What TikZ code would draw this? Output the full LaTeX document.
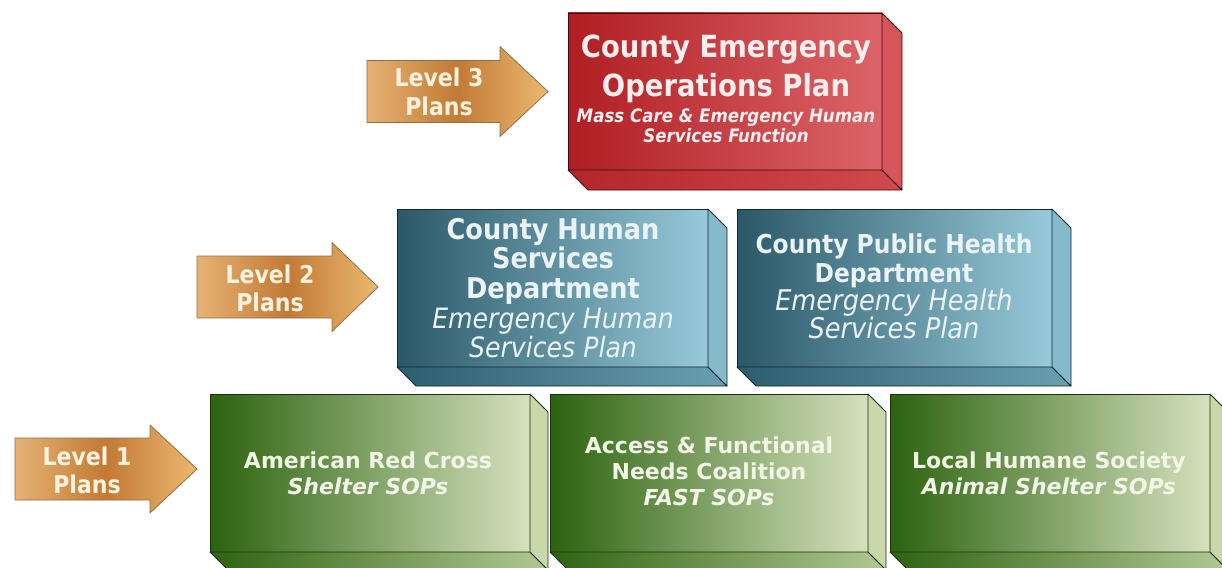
\documentclass[tikz,border=0pt]{standalone}
\usepackage{fontspec}
\setmainfont{DejaVu Sans}
\newfontfamily\narfont[FakeStretch=0.9]{DejaVu Sans}
\usetikzlibrary{calc}
\definecolor{redA}{HTML}{B01E23}
\definecolor{redB}{HTML}{DC6468}
\definecolor{redSide}{HTML}{D6555A}
\definecolor{redBotA}{HTML}{B3262A}
\definecolor{redBotB}{HTML}{D24A4E}
\definecolor{redLine}{HTML}{3C0A0C}
\definecolor{redText}{HTML}{F8EEEE}
\definecolor{tealA}{HTML}{2B5868}
\definecolor{tealB}{HTML}{96C9D9}
\definecolor{tealSide}{HTML}{84BACA}
\definecolor{tealBotA}{HTML}{2D5E6F}
\definecolor{tealBotB}{HTML}{6A9FB2}
\definecolor{tealLine}{HTML}{12262E}
\definecolor{tealText}{HTML}{EAF4F7}
\definecolor{greenA}{HTML}{2C630F}
\definecolor{greenB}{HTML}{D6E1BE}
\definecolor{greenSide}{HTML}{C9D7AC}
\definecolor{greenBotA}{HTML}{2E6411}
\definecolor{greenBotB}{HTML}{B3C795}
\definecolor{greenLine}{HTML}{1B300C}
\definecolor{greenText}{HTML}{F2F6E6}
\definecolor{arrA}{HTML}{E6B274}
\definecolor{arrM}{HTML}{C27A35}
\definecolor{arrB}{HTML}{EBB870}
\definecolor{arrLine}{HTML}{8E7048}
\definecolor{arrText}{HTML}{FFF3E0}
\newcommand\extrudebox[6]{%
  \shadedraw[left color=#5, right color=#6, draw=#3, line width=0.8pt, line join=round]
    (#1.south west) -- (#1.south east) -- ($(#1.south east)+(#2,#2)$) -- ($(#1.south west)+(#2,#2)$) -- cycle;
  \filldraw[fill=#4, draw=#3, line width=0.8pt, line join=round]
    (#1.north east) -- ($(#1.north east)+(#2,#2)$) -- ($(#1.south east)+(#2,#2)$) -- (#1.south east) -- cycle;
}
\tikzset{
  every node/.style={inner sep=0pt, outer sep=0pt},
  redfront/.style={draw=redLine, line width=0.8pt, left color=redA, right color=redB, minimum width=314pt, minimum height=157pt},
  tealfront/.style={draw=tealLine, line width=0.8pt, left color=tealA, right color=tealB, minimum height=158pt},
  greenfront/.style={draw=greenLine, line width=0.8pt, left color=greenA, right color=greenB, minimum width=320pt, minimum height=158pt},
  arrowshape/.style={draw=arrLine, line width=0.8pt, line join=round, left color=arrA, right color=arrB, middle color=arrM},
  arrtxt/.style={anchor=base, text=arrText, font={\narfont\bfseries\fontsize{24.5pt}{25pt}\selectfont}},
  redtitle/.style={anchor=base, text=redText, font={\narfont\bfseries\fontsize{30.5pt}{31pt}\selectfont}},
  redsub/.style={anchor=base, text=redText, font={\narfont\bfseries\itshape\fontsize{18.5pt}{19pt}\selectfont}},
  tealtitle/.style={anchor=base, text=tealText, font={\narfont\bfseries\fontsize{#1}{#1}\selectfont}},
  tealsub/.style={anchor=base, text=tealText, font={\narfont\itshape\fontsize{#1}{#1}\selectfont}},
  greentitle/.style={anchor=base, text=greenText, font={\bfseries\fontsize{22pt}{22pt}\selectfont}},
  greensub/.style={anchor=base, text=greenText, font={\bfseries\itshape\fontsize{22pt}{22pt}\selectfont}},
}
\begin{document}
\begin{tikzpicture}[x=1pt, y=-1pt]
\useasboundingbox (0,0) rectangle (1222,567);
\clip (0,0) rectangle (1222,567);
\fill[white] (0,0) rectangle (1222,567);

% ---- arrows ----
\shadedraw[arrowshape] (367,60.5) -- (500,60.5) -- (500,46.5) -- (548,91.5) -- (500,136.5) -- (500,122.5) -- (367,122.5) -- cycle;
\node[arrtxt] (l3a) at (439,87) {Level 3};
\node[arrtxt] (l3b) at (439,115) {Plans};

\shadedraw[arrowshape] (197,256) -- (332,256) -- (332,242.5) -- (378,287) -- (332,331.5) -- (332,318) -- (197,318) -- cycle;
\node[arrtxt] (l2a) at (270,283) {Level 2};
\node[arrtxt] (l2b) at (270,311) {Plans};

\shadedraw[arrowshape] (15,438) -- (150,438) -- (150,425) -- (197,469) -- (150,513) -- (150,500) -- (15,500) -- cycle;
\node[arrtxt] (l1a) at (87,465) {Level 1};
\node[arrtxt] (l1b) at (87,493) {Plans};

% ---- level 3 ----
\node[redfront] (eop) at (725,91.5) {};
\extrudebox{eop}{20}{redLine}{redSide}{redBotA}{redBotB}
\node[redtitle] (eop1) at (726,58) {County Emergency};
\node[redtitle] (eop2) at (726,96) {Operations Plan};
\node[redsub] (eop3) at (726,122) {Mass Care \& Emergency Human};
\node[redsub] (eop4) at (726,142) {Services Function};

% ---- level 2 ----
\node[tealfront, minimum width=311pt] (hsd) at (552.5,288) {};
\extrudebox{hsd}{19}{tealLine}{tealSide}{tealBotA}{tealBotB}
\node[tealtitle=28.5pt] (hsd1) at (553,239) {County Human};
\node[tealtitle=28.5pt] (hsd2) at (553,268) {Services};
\node[tealtitle=28.5pt] (hsd3) at (553,298) {Department};
\node[tealsub=28pt] (hsd4) at (553,328) {Emergency Human};
\node[tealsub=28pt] (hsd5) at (553,357.5) {Services Plan};

\node[tealfront, minimum width=315pt] (phd) at (894.5,288) {};
\extrudebox{phd}{19}{tealLine}{tealSide}{tealBotA}{tealBotB}
\node[tealtitle=26pt] (phd1) at (894,253) {County Public Health};
\node[tealtitle=26pt] (phd2) at (894,282) {Department};
\node[tealsub=28.5pt] (phd3) at (894,310) {Emergency Health};
\node[tealsub=28.5pt] (phd4) at (894,338) {Services Plan};

% ---- level 1 ----
\node[greenfront] (arc) at (370,473) {};
\extrudebox{arc}{18}{greenLine}{greenSide}{greenBotA}{greenBotB}
\node[greentitle] (arc1) at (368,468) {American Red Cross};
\node[greensub] (arc2) at (368,494) {Shelter SOPs};

\node[greenfront, minimum width=318pt] (afn) at (709,473) {};
\extrudebox{afn}{18}{greenLine}{greenSide}{greenBotA}{greenBotB}
\node[greentitle] (afn1) at (709,453) {Access \& Functional};
\node[greentitle] (afn2) at (709,479) {Needs Coalition};
\node[greensub] (afn3) at (709,505) {FAST SOPs};

\node[greenfront] (hum) at (1050,473) {};
\extrudebox{hum}{18}{greenLine}{greenSide}{greenBotA}{greenBotB}
\node[greentitle] (hum1) at (1049,468) {Local Humane Society};
\node[greensub] (hum2) at (1049,494) {Animal Shelter SOPs};
\end{tikzpicture}
\end{document}
